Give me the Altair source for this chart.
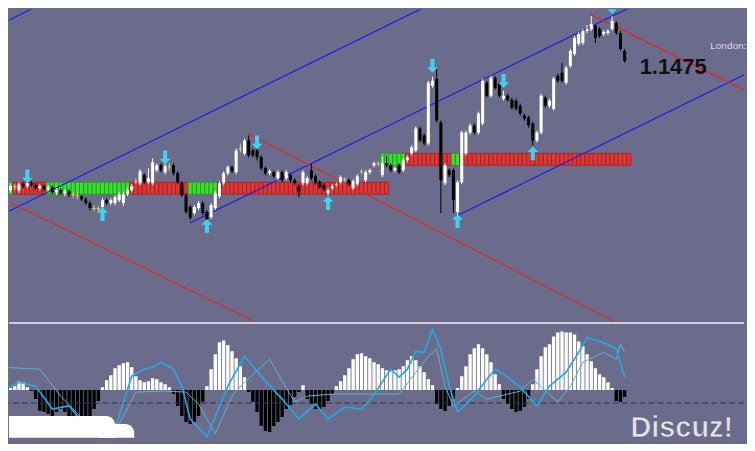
import altair as alt
import numpy as np
import pandas as pd

# ---------------- data ----------------
BASE = 1.1219          # price at the bottom edge of the price pane
PIP = 0.0001           # candle values below are pips above BASE

open_pips = [132,134,132,136,132,138,136,139,137,134,
             136,133,135,130,132,129,131,128,127,126,
             123,119,114,113,115,122,119,119,122,119,
             128,132,140,139,147,140,139,152,157,150,
             156,157,149,139,127,115,109,114,119,110,
             105,114,126,139,149,155,150,173,169,182,
             172,172,165,154,149,150,144,150,144,147,
             142,136,139,139,152,146,140,137,129,134,
             137,140,142,142,134,138,150,142,150,157,
             158,147,159,157,152,157,152,162,169,172,
             194,187,179,237,244,200,139,152,152,110,
             140,169,190,197,190,199,240,227,245,239,
             224,227,223,222,217,207,205,199,182,190,
             225,217,214,247,250,240,257,269,279,280,
             292,294,297,294,289,290,294,300,290,272]
close_pips = [134,132,136,135,138,136,139,137,134,136,
              133,135,130,132,129,131,128,127,126,123,
              119,114,113,114,122,119,122,125,128,128,
              132,136,141,151,140,144,160,157,152,156,
              155,149,140,127,110,104,115,119,109,103,
              117,129,139,149,155,151,172,174,182,167,
              167,165,154,149,151,146,150,142,150,142,
              139,131,150,144,144,139,135,133,132,136,
              138,145,143,138,141,146,151,150,152,159,
              159,159,157,152,154,150,162,165,175,194,
              182,179,240,242,202,142,157,147,122,140,
              190,190,197,190,209,242,227,245,235,227,
              227,223,215,214,209,204,197,182,190,227,
              217,222,244,242,242,255,272,285,289,292,
              294,299,285,287,291,292,302,290,274,262]
high_pips = [137,136,138,138,140,140,140,141,139,138,
             138,137,137,134,134,133,133,130,130,127,
             125,121,117,116,124,124,124,127,130,130,
             134,138,144,153,149,154,164,159,159,159,
             159,159,151,141,129,117,117,121,121,112,
             119,131,141,151,157,157,174,179,184,187,
             174,174,167,156,153,152,152,152,152,149,
             144,138,152,146,159,148,142,139,134,138,
             140,147,145,144,143,148,153,152,154,161,
             161,165,167,159,156,159,164,167,177,196,
             196,189,242,246,254,202,159,154,154,142,
             192,192,199,199,211,244,242,247,247,241,
             232,229,225,224,219,209,207,201,192,229,
             227,224,246,249,260,257,274,287,291,294,
             298,307,299,296,293,294,307,302,292,274]
low_pips = [130,130,130,132,129,134,134,135,132,132,
            131,131,128,127,127,126,125,124,123,121,
            117,112,111,110,113,117,117,117,120,116,
            126,130,138,137,138,138,137,150,150,148,
            152,147,138,125,108,102,107,112,107,101,
            103,112,124,137,147,149,148,170,167,165,
            165,162,152,147,147,144,142,140,142,140,
            137,125,137,137,142,137,133,131,127,132,
            135,138,140,136,132,136,148,140,148,155,
            156,145,155,150,150,148,150,160,167,170,
            180,177,177,235,200,109,137,145,109,107,
            138,167,188,188,188,197,225,225,233,225,
            222,221,213,212,207,202,195,177,180,188,
            215,215,212,240,240,238,255,267,277,278,
            290,292,280,285,287,288,292,288,272,260]

# trend ribbon (state runs) and its price band (pips)
ribbon1_start = 0
ribbon1_runs = [("up", 3), ("down", 8), ("up", 20), ("down", 14), ("up", 7), ("down", 41)]
ribbon1_band = [128, 140]
ribbon2_start = 91
ribbon2_runs = [("up", 6), ("down", 11), ("up", 2), ("down", 41)]
ribbon2_band = [157, 169]

# signal arrows (bar index, price in pips)
arrow_up_idx = [24, 49, 78, 109, 127]
arrow_up_pips = [108, 96, 119, 101, 169]
arrow_dn_idx = [6, 39, 61, 103, 120, 146]
arrow_dn_pips = [146, 165, 180, 257, 242, 316]

# channel / trend lines: start (bar, pips) -> end (bar, pips)
trend_x0 = [-0.3, -0.3, 44.95, 109.2, -0.3, 58.8, 140.7]
trend_p0 = [299, 107, 99, 107, 124, 189, 309]
trend_x1 = [10.7, 104.0, 153.3, 179.5, 60.4, 152.0, 179.5]
trend_p1 = [322, 322, 322, 252, 0, -12, 229]
trend_kind = ["blue", "blue", "blue", "blue", "red", "red", "red"]

# oscillator pane
hist_vals = [-10,-8,2,4,9,8,3,-1,-9,-21,
             -22,-24,-26,-22,-19,-22,-27,-29,-29,-31,
             -32,-26,-19,-11,3,10,15,22,25,27,
             28,23,14,10,8,9,12,11,8,6,
             3,-4,-16,-26,-32,-34,-32,-26,-12,4,
             21,36,48,50,45,39,32,24,13,-2,
             -12,-22,-36,-41,-42,-36,-32,-27,-19,-15,
             -7,-2,5,-9,-14,-19,-19,-17,-11,-4,
             4,9,15,22,31,36,37,34,32,28,
             26,22,20,19,20,21,24,30,34,30,
             24,18,11,5,-14,-19,-21,-16,-9,2,
             14,24,36,42,46,42,36,28,16,6,
             -9,-14,-19,-22,-21,-17,-9,6,21,34,
             43,46,54,58,59,58,58,56,49,44,
             36,29,22,16,13,8,2,-11,-12,-7]
main_idx = [0,4,8,12,16,18,21,27,31,34,36,38,41,43,45,49,54,58,63,67,
            71,75,78,82,86,88,90,93,95,97,99,101,103,105,107,109,113,116,118,120,
            124,128,131,135,138,140,143,146,147,149]
main_val = [-1,8,4,-19,-16,-26,-32,-39,14,21,23,28,21,4,-29,-47,4,34,9,-9,
            -29,-14,-29,-17,-19,-10,2,21,13,21,39,38,61,41,4,-22,-6,11,21,16,
            3,-16,4,18,38,53,49,44,41,13]
sig_idx = [0,9,14,20,28,32,39,44,47,51,55,58,64,70,73,79,90,95,102,104,
           106,108,113,116,124,127,133,136,139,144,147,148,149]
sig_val = [23,21,-6,-32,-34,-2,-1,-2,-14,-44,-6,8,31,-12,-6,-4,-4,-4,34,41,
           4,-16,-1,-9,-1,11,-12,4,28,38,31,46,38]
dash_level = [-13]

price_label = "1.1475"
session_label = "London:"
watermark = "Discuz!"

# ---------------- styling ----------------
BG = "#6b6b8b"
CYAN = "#3fd3f2"
W = 739
H_TOP = 314
H_BOT = 117
X0 = 6.8 / 4.2
X1 = X0 + W / 4.2

XS = alt.Scale(domain=[X0, X1], nice=False, zero=False)
YS = alt.Scale(domain=[BASE, BASE + H_TOP * PIP], nice=False, zero=False)
VS = alt.Scale(domain=[69 - H_BOT, 69], nice=False, zero=False)


def X(f):
    return alt.X(f, type="quantitative", scale=XS, axis=None)


def Y(f):
    return alt.Y(f, type="quantitative", scale=YS, axis=None)


def V(f):
    return alt.Y(f, type="quantitative", scale=VS, axis=None)


# ---------------- price pane ----------------
n = len(open_pips)
idx = np.arange(n)
o = np.array(open_pips, float)
c = np.array(close_pips, float)
kind = np.where(np.abs(c - o) <= 1, "doji", np.where(c > o, "bull", "bear"))
kcol = {"bull": "#ffffff", "bear": "#000000", "doji": "#e4d060"}
cdf = pd.DataFrame({
    "i": idx,
    "xl": idx - 0.36,
    "xr": idx + 0.36,
    "open": BASE + o * PIP,
    "close": BASE + c * PIP,
    "high": BASE + np.array(high_pips) * PIP,
    "low": BASE + np.array(low_pips) * PIP,
    "col": [kcol[k] for k in kind],
})

rows = []
for start, runs, band in [(ribbon1_start, ribbon1_runs, ribbon1_band),
                          (ribbon2_start, ribbon2_runs, ribbon2_band)]:
    k = start
    for state, length in runs:
        for _ in range(length):
            rows.append({"xl": k - 0.5, "xr": k + 0.5,
                         "lo": BASE + band[0] * PIP, "hi": BASE + band[1] * PIP,
                         "fill": "#3ddc36" if state == "up" else "#dc3838",
                         "edge": "#1f9a1f" if state == "up" else "#a51f1f"})
            k += 1
rdf = pd.DataFrame(rows)

tdf = pd.DataFrame({
    "x0": trend_x0, "x1": trend_x1,
    "p0": BASE + np.array(trend_p0) * PIP,
    "p1": BASE + np.array(trend_p1) * PIP,
    "col": ["#1c1cf0" if t == "blue" else "#e02a2a" for t in trend_kind],
})

up_df = pd.DataFrame({"i": arrow_up_idx, "p": BASE + np.array(arrow_up_pips) * PIP})
dn_df = pd.DataFrame({"i": arrow_dn_idx, "p": BASE + np.array(arrow_dn_pips) * PIP})

UP_PATH = "M0,-1L0.8,-0.2L0.3,-0.2L0.3,1L-0.3,1L-0.3,-0.2L-0.8,-0.2Z"
DN_PATH = "M0,1L0.8,0.2L0.3,0.2L0.3,-1L-0.3,-1L-0.3,0.2L-0.8,0.2Z"

ribbon = alt.Chart(rdf).mark_rect(strokeWidth=0.8, clip=True).encode(
    x=X("xl"), x2=alt.X2("xr"), y=Y("lo"), y2=alt.Y2("hi"),
    fill=alt.Fill("fill:N", scale=None), stroke=alt.Stroke("edge:N", scale=None))

trends = alt.Chart(tdf).mark_rule(strokeWidth=1.2, clip=True).encode(
    x=X("x0"), x2=alt.X2("x1"), y=Y("p0"), y2=alt.Y2("p1"),
    color=alt.Color("col:N", scale=None))

wicks = alt.Chart(cdf).mark_rule(strokeWidth=1, clip=True).encode(
    x=X("i"), y=Y("low"), y2=alt.Y2("high"), color=alt.Color("col:N", scale=None))

bodies = alt.Chart(cdf).mark_rect(clip=True).encode(
    x=X("xl"), x2=alt.X2("xr"), y=Y("open"), y2=alt.Y2("close"),
    color=alt.Color("col:N", scale=None))

arr_up = alt.Chart(up_df).mark_point(shape=UP_PATH, filled=True, size=190, opacity=1,
                                     color=CYAN, clip=True).encode(x=X("i"), y=Y("p"))
arr_dn = alt.Chart(dn_df).mark_point(shape=DN_PATH, filled=True, size=190, opacity=1,
                                     color=CYAN, clip=True).encode(x=X("i"), y=Y("p"))

lab_df = pd.DataFrame({"i": [152.6], "p": [BASE + 249 * PIP], "t": [price_label]})
price_txt = alt.Chart(lab_df).mark_text(align="left", baseline="alphabetic",
                                        font="Liberation Sans", fontSize=22,
                                        fontWeight="bold", color="#111111").encode(
    x=X("i"), y=Y("p"), text="t:N")
ses_df = pd.DataFrame({"i": [169.5], "p": [BASE + 274 * PIP], "t": [session_label]})
ses_txt = alt.Chart(ses_df).mark_text(align="left", baseline="alphabetic",
                                      font="Liberation Sans", fontSize=10,
                                      color="#d9d9e4").encode(
    x=X("i"), y=Y("p"), text="t:N")

top = alt.layer(ribbon, trends, wicks, bodies, arr_up, arr_dn, price_txt, ses_txt).properties(
    width=W, height=H_TOP)

# ---------------- oscillator pane ----------------
hv = np.array(hist_vals, float)
hdf = pd.DataFrame({"xl": idx - 0.4, "xr": idx + 0.4, "v": hv, "z": 0.0,
                    "col": np.where(hv >= 0, "#ffffff", "#000000")})
hist = alt.Chart(hdf).mark_rect(clip=True).encode(
    x=X("xl"), x2=alt.X2("xr"), y=V("z"), y2=alt.Y2("v"),
    color=alt.Color("col:N", scale=None))

dash = alt.Chart(pd.DataFrame({"lvl": dash_level})).mark_rule(
    color="#34344c", strokeWidth=1, strokeDash=[6, 3]).encode(y=V("lvl"))

mdf = pd.DataFrame({"i": main_idx, "v": main_val})
sdf = pd.DataFrame({"i": sig_idx, "v": sig_val})
sig_line = alt.Chart(sdf).mark_line(color="#5ab4d6", strokeWidth=1, clip=True).encode(
    x=X("i"), y=V("v"), order="i:Q")
main_line = alt.Chart(mdf).mark_line(color="#26a8de", strokeWidth=1.7, clip=True).encode(
    x=X("i"), y=V("v"), order="i:Q")

blob_df = pd.DataFrame({"x0": [-2, 23], "x1": [27, 31.6], "v0": [-62, -58], "v1": [-26, -34]})
blob = alt.Chart(blob_df).mark_rect(color="#ffffff", cornerRadius=9, clip=True).encode(
    x=X("x0"), x2=alt.X2("x1"), y=V("v0"), y2=alt.Y2("v1"))

sep = alt.Chart(pd.DataFrame({"k": [0]})).mark_rule(color="#cdcddd", strokeWidth=2).encode(
    y=alt.value(1.5))

wm_df = pd.DataFrame({"i": [150.4], "v": [-47], "t": [watermark]})
wm = alt.Chart(wm_df).mark_text(align="left", baseline="alphabetic", font="Liberation Sans",
                                fontSize=29, fontWeight="bold", color="#e2e2e8",
                                stroke="#55556a", strokeWidth=0.6).encode(
    x=X("i"), y=V("v"), text="t:N")

bottom = alt.layer(hist, dash, sig_line, main_line, blob, sep, wm).properties(
    width=W, height=H_BOT)

chart = alt.vconcat(top, bottom, spacing=0).properties(
    background=BG, padding=0).configure_view(stroke=None)

chart.save("out.html", embed_options={"renderer": "svg", "actions": False})
